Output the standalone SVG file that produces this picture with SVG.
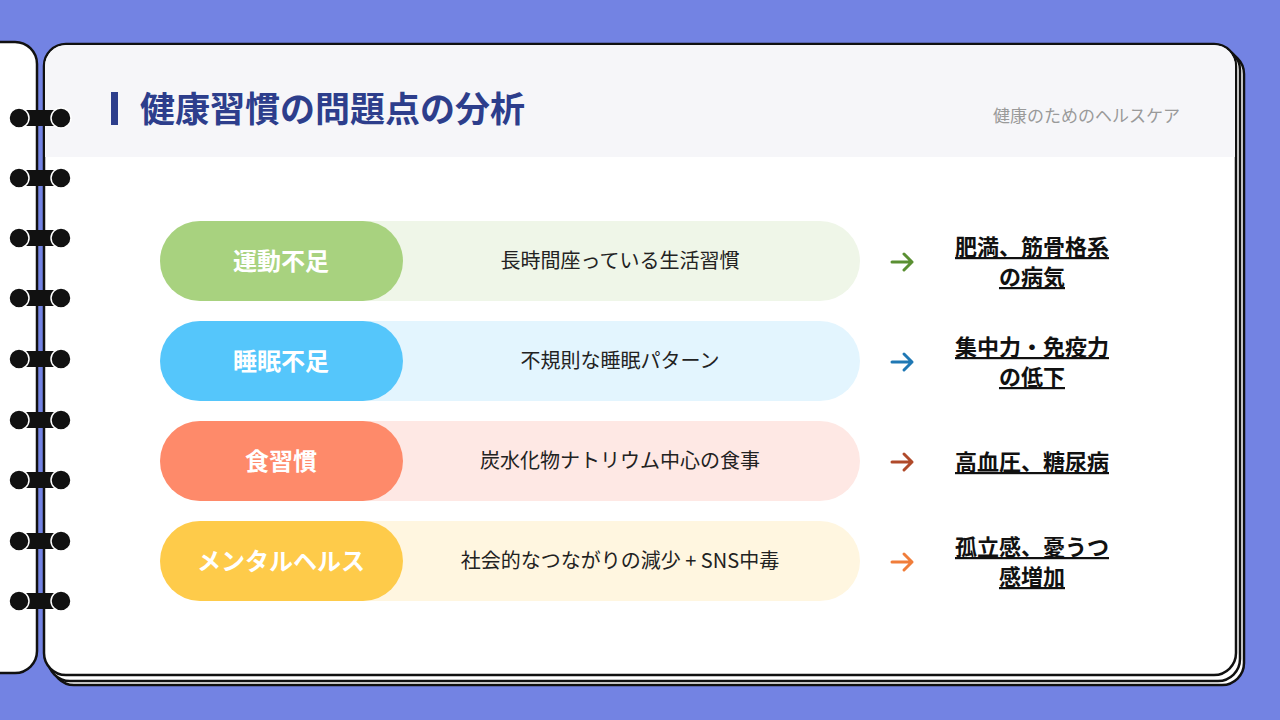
<svg xmlns="http://www.w3.org/2000/svg" width="1280" height="720" viewBox="0 0 1280 720">
<defs>
<style>
.pg{fill:#fff;stroke:#111;stroke-width:2.5}
.t{font-family:"Noto Sans CJK JP","Noto Sans",sans-serif}
.lab{font-size:24px;font-weight:700;fill:#fff;text-anchor:middle}
.desc{font-size:20px;fill:#222;text-anchor:middle}
.res{font-size:22px;font-weight:700;fill:#111;text-anchor:middle;text-decoration:underline}
.ring{fill:#111;stroke:#fff;stroke-width:1.5}
</style>
</defs>
<rect width="1280" height="720" fill="#7383e3"/>
<rect x="-30" y="42" width="67" height="631" rx="22" class="pg"/>
<rect x="52" y="52" width="1192" height="633" rx="22" class="pg"/>
<rect x="48" y="48" width="1192" height="633" rx="22" class="pg"/>
<rect x="44" y="44" width="1192" height="631" rx="22" class="pg"/>
<path d="M66 45 H1214 A21 21 0 0 1 1235 66 V157 H45 V66 A21 21 0 0 1 66 45Z" fill="#f6f6f9"/>
<rect x="111" y="92" width="7" height="33" fill="#2d3e8c"/>
<text x="140" y="122" class="t" font-size="35" font-weight="700" fill="#2d3e8c">健康習慣の問題点の分析</text>
<text x="1180" y="122" class="t" font-size="17" fill="#9a9a9a" text-anchor="end">健康のためのヘルスケア</text>
<g id="rings">
<g transform="translate(0,118)"><rect x="14" y="-8" width="52" height="16" rx="8" fill="#111"/><circle cx="19" cy="0" r="10" class="ring"/><circle cx="61" cy="0" r="10" class="ring"/></g>
<g transform="translate(0,178)"><rect x="14" y="-8" width="52" height="16" rx="8" fill="#111"/><circle cx="19" cy="0" r="10" class="ring"/><circle cx="61" cy="0" r="10" class="ring"/></g>
<g transform="translate(0,238)"><rect x="14" y="-8" width="52" height="16" rx="8" fill="#111"/><circle cx="19" cy="0" r="10" class="ring"/><circle cx="61" cy="0" r="10" class="ring"/></g>
<g transform="translate(0,298)"><rect x="14" y="-8" width="52" height="16" rx="8" fill="#111"/><circle cx="19" cy="0" r="10" class="ring"/><circle cx="61" cy="0" r="10" class="ring"/></g>
<g transform="translate(0,359)"><rect x="14" y="-8" width="52" height="16" rx="8" fill="#111"/><circle cx="19" cy="0" r="10" class="ring"/><circle cx="61" cy="0" r="10" class="ring"/></g>
<g transform="translate(0,420)"><rect x="14" y="-8" width="52" height="16" rx="8" fill="#111"/><circle cx="19" cy="0" r="10" class="ring"/><circle cx="61" cy="0" r="10" class="ring"/></g>
<g transform="translate(0,480)"><rect x="14" y="-8" width="52" height="16" rx="8" fill="#111"/><circle cx="19" cy="0" r="10" class="ring"/><circle cx="61" cy="0" r="10" class="ring"/></g>
<g transform="translate(0,541)"><rect x="14" y="-8" width="52" height="16" rx="8" fill="#111"/><circle cx="19" cy="0" r="10" class="ring"/><circle cx="61" cy="0" r="10" class="ring"/></g>
<g transform="translate(0,601)"><rect x="14" y="-8" width="52" height="16" rx="8" fill="#111"/><circle cx="19" cy="0" r="10" class="ring"/><circle cx="61" cy="0" r="10" class="ring"/></g>
</g>
<g id="row1">
<rect x="160" y="221" width="700" height="80" rx="40" fill="#eff6e8"/>
<rect x="160" y="221" width="243" height="80" rx="40" fill="#a8d27f"/>
<text x="281" y="270" class="t lab">運動不足</text>
<text x="620" y="268" class="t desc">長時間座っている生活習慣</text>
<text x="1032" y="255" class="t res">肥満、筋骨格系</text>
<text x="1032" y="285" class="t res">の病気</text>
</g>
<g id="row2">
<rect x="160" y="321" width="700" height="80" rx="40" fill="#e3f5fe"/>
<rect x="160" y="321" width="243" height="80" rx="40" fill="#55c6fb"/>
<text x="281" y="370" class="t lab">睡眠不足</text>
<text x="620" y="368" class="t desc">不規則な睡眠パターン</text>
<text x="1032" y="355" class="t res">集中力・免疫力</text>
<text x="1032" y="385" class="t res">の低下</text>
</g>
<g id="row3">
<rect x="160" y="421" width="700" height="80" rx="40" fill="#fee8e4"/>
<rect x="160" y="421" width="243" height="80" rx="40" fill="#fe8a6a"/>
<text x="281" y="470" class="t lab">食習慣</text>
<text x="620" y="468" class="t desc">炭水化物ナトリウム中心の食事</text>
<text x="1032" y="470" class="t res">高血圧、糖尿病</text>
</g>
<g id="row4">
<rect x="160" y="521" width="700" height="80" rx="40" fill="#fff6e0"/>
<rect x="160" y="521" width="243" height="80" rx="40" fill="#fecb4a"/>
<text x="281" y="570" class="t lab">メンタルヘルス</text>
<text x="620" y="568" class="t desc">社会的なつながりの減少 + SNS中毒</text>
<text x="1032" y="555" class="t res">孤立感、憂うつ</text>
<text x="1032" y="585" class="t res">感増加</text>
</g>
<g id="connectors" fill="none" stroke-width="3" stroke-linecap="round" stroke-linejoin="round">
<path d="M892 262 H912 M904 254 L912 262 L904 270" stroke="#5a8f32"/>
<path d="M892 362 H912 M904 354 L912 362 L904 370" stroke="#1f78b4"/>
<path d="M892 462 H912 M904 454 L912 462 L904 470" stroke="#b04a2a"/>
<path d="M892 562 H912 M904 554 L912 562 L904 570" stroke="#f07d3a"/>
</g>
</svg>
